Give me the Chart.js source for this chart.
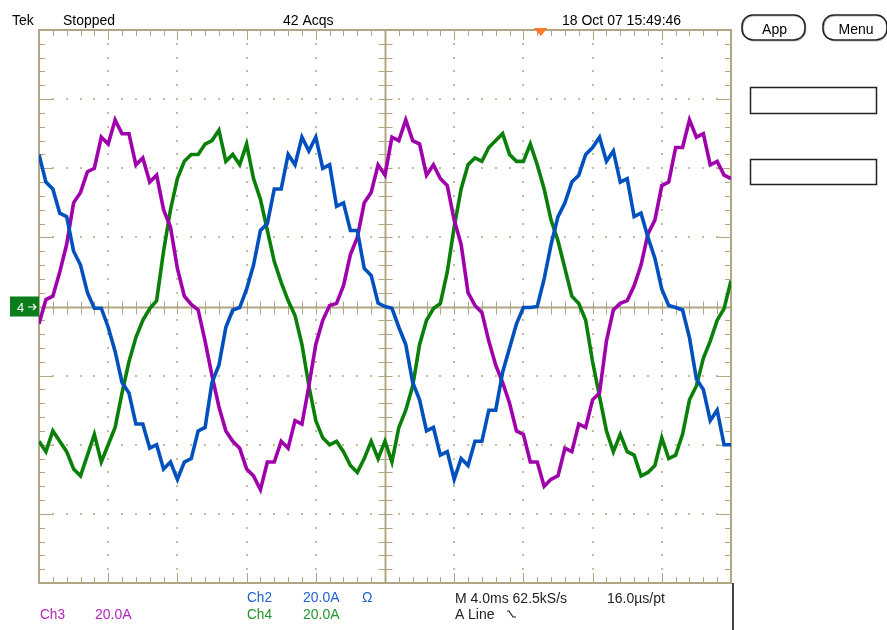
<!DOCTYPE html>
<html>
<head>
<meta charset="utf-8">
<script src="https://cdn.jsdelivr.net/npm/chart.js@4.4.1/dist/chart.umd.min.js"></script>
<style>
  html, body { margin: 0; padding: 0; background: #fff; }
  canvas { display: block; }
</style>
</head>
<body>
<canvas id="scope" width="887" height="630"></canvas>
<script>
// screen: 10 div x 4.0 ms, 8 div x 20.0 A
const X_MIN = 0, X_MAX = 40;
const Y_MIN = -80, Y_MAX = 80;
const SAMPLE_MS = 0.4;
const TRIGGER_MS = 29;

// Ch2 (blue), amps, one value per 0.4 ms
const ch2 = [
  44, 36, 34, 27, 26, 16, 12, 4, -0.5, -0.5,
  -6, -13, -22, -25, -34, -34, -41, -40, -47, -45,
  -50, -45, -44, -36, -35, -22, -17, -6, -1, -0.3,
  5, 12, 22, 24, 34, 34, 44, 41, 49, 45,
  49, 40, 41, 29, 30, 22, 22, 11, 9, 1,
  0, -0.5, -6, -11, -22, -27, -36, -35, -43, -42,
  -50, -44, -46, -39, -39, -30, -30, -19, -12, -5,
  -0.3, -0.3, 0, 8, 18, 26, 30, 36, 38, 44,
  46, 49, 42, 45, 36, 37, 26, 27, 20, 14,
  5, 0.3, -0.3, -1, -9, -21, -24, -33, -30, -40,
  -40
];

// Ch3 (magenta)
const ch3 = [
  -5, 2, 3, 10, 18, 30, 33, 39, 40, 49,
  47, 54, 50, 50, 41, 43, 36, 38, 28, 23,
  11, 3, 0.6, -1, -10, -20, -29, -36, -39, -41,
  -47, -49, -53, -45, -45, -39, -41, -33, -34, -23,
  -11, -4, 0.3, 0.9, 6, 15, 20, 30, 33, 41,
  38, 49, 48, 54, 48, 47, 38, 41, 37, 35,
  25, 18, 4, 0.3, -1.7, -10, -17, -22, -28, -36,
  -37, -45, -45, -52, -50, -49, -41, -42, -34, -35,
  -27, -25, -10, -1, 0.9, 1.7, 6, 12, 21, 25,
  35, 36, 46, 46, 54, 49, 50, 41, 42, 38,
  37
];

// Ch4 (green)
const ch4 = [
  -39, -42, -36, -39, -42, -47, -49, -43, -37, -45,
  -40, -35, -25, -16, -9, -4, -0.6, 1.7, 16, 28,
  37, 42, 44, 44, 47, 48, 51, 42, 44, 41,
  47, 37, 31, 22, 13, 7, 1.7, -2.6, -11, -23,
  -33, -38, -40, -39, -42, -46, -48, -44, -39, -44,
  -39, -45, -35, -30, -23, -11, -4, -0.6, 0.9, 10,
  23, 34, 41, 43, 42, 46, 48, 50, 44, 42,
  42, 47, 41, 34, 25, 19, 11, 3, 0.9, -4,
  -16, -26, -36, -42, -37, -42, -43, -49, -48, -46,
  -38, -44, -43, -37, -27, -23, -15, -10, -4, -0.6,
  7.5
];

const headerLabels = ['Tek', 'Stopped', '42 Acqs', '18 Oct 07 15:49:46'];
const ch2Labels = ['Ch2', '20.0A', 'Ω'];
const ch3Labels = ['Ch3', '20.0A'];
const ch4Labels = ['Ch4', '20.0A'];
const timebaseLabels = ['M 4.0ms 62.5kS/s', '16.0µs/pt'];
const triggerLabels = ['A', 'Line'];
const buttonLabels = ['App', 'Menu'];

const GRID = '#b0a684';
const DOT = '#c4bba0';
const BLUE = '#0050be';
const MAGENTA = '#a000ac';
const GREEN = '#0a800a';

const toPoints = vals => vals.map((v, i) => ({ x: i * SAMPLE_MS, y: v }));
const px = v => Math.round(v) + 0.5;

const scopeGrid = {
  id: 'scopeGrid',
  beforeDraw(chart) {
    const { ctx, width, height } = chart;
    ctx.save();
    ctx.fillStyle = '#fff';
    ctx.fillRect(0, 0, width, height);
    ctx.restore();
  },
  beforeDatasetsDraw(chart) {
    const { ctx, chartArea: a, scales: { x, y } } = chart;
    const xDiv = (X_MAX - X_MIN) / 10, yDiv = (Y_MAX - Y_MIN) / 8;
    const xc = px(x.getPixelForValue((X_MIN + X_MAX) / 2));
    const yc = px(y.getPixelForValue(0));
    ctx.save();

    // dotted graticule
    ctx.fillStyle = DOT;
    for (let i = 1; i < 10; i++) {
      if (i === 5) continue;
      const gx = Math.round(x.getPixelForValue(X_MIN + i * xDiv));
      for (let k = 1; k < 40; k++) {
        const gy = Math.round(y.getPixelForValue(Y_MIN + k * yDiv / 5));
        ctx.fillRect(gx - 1, gy - 1, 2, 2);
      }
    }
    for (let j = 1; j < 8; j++) {
      if (j === 4) continue;
      const gy = Math.round(y.getPixelForValue(Y_MIN + j * yDiv));
      for (let k = 1; k < 50; k++) {
        const gx = Math.round(x.getPixelForValue(X_MIN + k * xDiv / 5));
        ctx.fillRect(gx - 1, gy - 1, 2, 2);
      }
    }

    ctx.strokeStyle = GRID;
    ctx.lineWidth = 1;
    ctx.beginPath();
    // ticks on border and centre cross
    for (let k = 1; k < 50; k++) {
      const t = px(x.getPixelForValue(X_MIN + k * xDiv / 5));
      const len = k % 5 === 0 ? 10 : 6;
      ctx.moveTo(t, a.top); ctx.lineTo(t, a.top + len);
      ctx.moveTo(t, a.bottom); ctx.lineTo(t, a.bottom - len);
      ctx.moveTo(t, yc - 6); ctx.lineTo(t, yc + 7);
    }
    for (let k = 1; k < 40; k++) {
      const t = px(y.getPixelForValue(Y_MIN + k * yDiv / 5));
      const len = k % 5 === 0 ? 14 : 6;
      ctx.moveTo(a.left, t); ctx.lineTo(a.left + len, t);
      ctx.moveTo(a.right, t); ctx.lineTo(a.right - len, t);
      ctx.moveTo(xc - 7, t); ctx.lineTo(xc + 7, t);
    }
    ctx.stroke();

    ctx.lineWidth = 2;
    ctx.beginPath();
    ctx.moveTo(xc, a.top); ctx.lineTo(xc, a.bottom);
    ctx.moveTo(a.left, yc); ctx.lineTo(a.right, yc);
    ctx.stroke();
    ctx.strokeRect(Math.round(a.left), Math.round(a.top), Math.round(a.right - a.left), Math.round(a.bottom - a.top));
    ctx.restore();
  }
};

const scopeText = {
  id: 'scopeText',
  afterDraw(chart) {
    const { ctx, chartArea: a, scales: { x, y } } = chart;
    ctx.save();
    const font = '14px "Liberation Sans", Arial, sans-serif';
    ctx.font = font;
    ctx.textBaseline = 'alphabetic';

    // header
    ctx.fillStyle = '#000';
    ctx.fillText(headerLabels[0], 12, 25, 23);
    ctx.fillText(headerLabels[1], 63, 25, 52);
    ctx.fillText(headerLabels[2], 283, 25, 52);
    ctx.fillText(headerLabels[3], 562, 25, 123);

    // trigger position marker
    const tx = x.getPixelForValue(TRIGGER_MS);
    ctx.fillStyle = '#ff7a2a';
    ctx.beginPath();
    ctx.moveTo(tx - 7, a.top - 2);
    ctx.lineTo(tx + 7, a.top - 2);
    ctx.lineTo(tx, a.top + 6);
    ctx.closePath();
    ctx.fill();

    // Ch4 ground marker
    const gy = y.getPixelForValue(0);
    ctx.fillStyle = '#0b7d1b';
    ctx.fillRect(10, gy - 10, 29, 20);
    ctx.fillStyle = '#fff';
    ctx.font = '13px "Liberation Sans", Arial, sans-serif';
    ctx.fillText('4', 17, gy + 5);
    ctx.strokeStyle = '#fff';
    ctx.lineWidth = 1.2;
    ctx.beginPath();
    ctx.moveTo(28, gy + 0.5); ctx.lineTo(36, gy + 0.5);
    ctx.moveTo(33, gy - 2.5); ctx.lineTo(36, gy + 0.5); ctx.lineTo(33, gy + 3.5);
    ctx.stroke();

    // footer readouts
    ctx.font = font;
    ctx.fillStyle = '#1f5fd2';
    ctx.fillText(ch2Labels[0], 247, 602, 25);
    ctx.fillText(ch2Labels[1], 303, 602, 37);
    ctx.fillText(ch2Labels[2], 362, 602);
    ctx.fillStyle = '#b424b8';
    ctx.fillText(ch3Labels[0], 40, 619, 25);
    ctx.fillText(ch3Labels[1], 95, 619, 37);
    ctx.fillStyle = '#23952a';
    ctx.fillText(ch4Labels[0], 247, 619, 25);
    ctx.fillText(ch4Labels[1], 303, 619, 37);
    ctx.fillStyle = '#222';
    ctx.fillText(timebaseLabels[0], 455, 603, 115);
    ctx.fillText(timebaseLabels[1], 607, 603, 59);
    ctx.fillText(triggerLabels[0], 455, 619);
    ctx.fillText(triggerLabels[1], 468, 619, 29);
    ctx.strokeStyle = '#222';
    ctx.lineWidth = 1.2;
    ctx.beginPath();
    ctx.moveTo(507, 611); ctx.lineTo(509, 611); ctx.lineTo(513, 617); ctx.lineTo(516, 617);
    ctx.stroke();

    // right-hand menu area
    ctx.strokeStyle = '#444';
    ctx.lineWidth = 2;
    ctx.beginPath();
    ctx.moveTo(733, a.bottom); ctx.lineTo(733, 630);
    ctx.stroke();

    const pill = (x0, x1, label) => {
      ctx.beginPath();
      ctx.roundRect(x0, 16, x1 - x0, 25, 11);
      ctx.fillStyle = '#fff';
      ctx.fill();
      ctx.strokeStyle = '#bbb';
      ctx.lineWidth = 1;
      ctx.stroke();
      ctx.beginPath();
      ctx.roundRect(x0 - 1, 15, x1 - x0, 25, 11);
      ctx.strokeStyle = '#222';
      ctx.lineWidth = 1.6;
      ctx.stroke();
      ctx.fillStyle = '#000';
      ctx.textAlign = 'center';
      ctx.fillText(label, (x0 + x1) / 2, 34);
      ctx.textAlign = 'left';
    };
    pill(743, 806, buttonLabels[0]);
    pill(824, 888, buttonLabels[1]);

    ctx.strokeStyle = '#222';
    ctx.lineWidth = 1.5;
    ctx.strokeRect(750.5, 87.5, 126, 26);
    ctx.strokeRect(750.5, 159.5, 126, 25);
    ctx.restore();
  }
};

const trace = (label, vals, color) => ({
  label,
  data: toPoints(vals),
  borderColor: color,
  backgroundColor: color,
  borderWidth: 3.6,
  pointRadius: 0,
  tension: 0
});

new Chart(document.getElementById('scope').getContext('2d'), {
  type: 'line',
  data: {
    datasets: [
      trace('Ch2', ch2, BLUE),
      trace('Ch3', ch3, MAGENTA),
      trace('Ch4', ch4, GREEN)
    ]
  },
  options: {
    responsive: false,
    animation: false,
    devicePixelRatio: 1,
    layout: { padding: { left: 39, top: 30, right: 156, bottom: 47 } },
    plugins: { legend: { display: false }, tooltip: { enabled: false } },
    scales: {
      x: { type: 'linear', min: X_MIN, max: X_MAX, display: false },
      y: { min: Y_MIN, max: Y_MAX, display: false }
    }
  },
  plugins: [scopeGrid, scopeText]
});
</script>
</body>
</html>
